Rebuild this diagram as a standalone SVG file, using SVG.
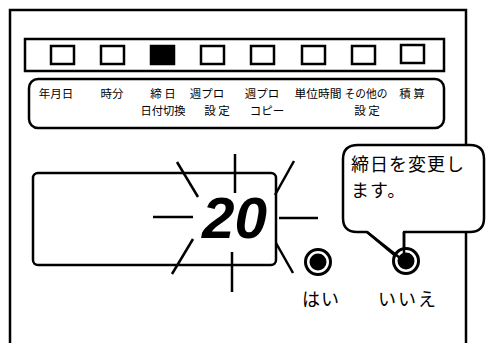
<svg xmlns="http://www.w3.org/2000/svg" width="486" height="343" viewBox="0 0 486 343">
<style>
.ln{fill:none;stroke:#000;stroke-width:2.5}
.led{fill:#fff;stroke:#000;stroke-width:2.5}
.ray{stroke:#000;stroke-width:2.5;fill:none}
.lbl{font-family:"Noto Sans CJK JP","Noto Sans CJK SC",sans-serif;font-size:11.5px;text-anchor:middle;fill:#000}
.big{font-family:"Noto Sans CJK JP","Noto Sans CJK SC",sans-serif;font-size:18px;fill:#000}
</style>
<rect width="486" height="343" fill="#fff"/>
<g id="frame"><rect class="ln" x="10" y="10" width="456" height="345"/></g>
<g id="led-bar">
<rect class="ln" x="25" y="39" width="419" height="32"/>
<rect class="led" x="51" y="46" width="23" height="18"/>
<rect class="led" x="101" y="46" width="23" height="18"/>
<rect x="151" y="46" width="23" height="18" fill="#000" stroke="#000" stroke-width="2.5"/>
<rect class="led" x="201" y="46" width="23" height="18"/>
<rect class="led" x="251" y="46" width="23" height="18"/>
<rect class="led" x="302" y="46" width="23" height="18"/>
<rect class="led" x="352" y="46" width="23" height="18"/>
<rect class="led" x="401" y="45" width="23" height="18"/>
</g>
<g id="labels">
<rect class="ln" x="29" y="79" width="415" height="49" rx="9"/>
<text class="lbl" x="56" y="98">年月日</text>
<text class="lbl" x="112" y="98">時分</text>
<text class="lbl" x="163" y="98">締 日</text>
<text class="lbl" x="163" y="115" textLength="45" lengthAdjust="spacingAndGlyphs">日付切換</text>
<text class="lbl" x="207" y="98">週プロ</text>
<text class="lbl" x="217" y="115">設 定</text>
<text class="lbl" x="262" y="98">週プロ</text>
<text class="lbl" x="267" y="115">コピー</text>
<text class="lbl" x="318" y="98" textLength="47" lengthAdjust="spacingAndGlyphs">単位時間</text>
<text class="lbl" x="366" y="98" textLength="43" lengthAdjust="spacingAndGlyphs">その他の</text>
<text class="lbl" x="367" y="115">設 定</text>
<text class="lbl" x="412" y="98">積 算</text>
</g>
<g id="display">
<rect class="ln" x="33" y="173" width="243" height="92" rx="5"/>
<text x="202" y="238" font-family="Liberation Sans, Arial, sans-serif" font-weight="bold" font-style="italic" font-size="58" textLength="65" lengthAdjust="spacingAndGlyphs">20</text>
</g>
<g id="rays">
<line class="ray" x1="235" y1="154" x2="235" y2="193"/>
<line class="ray" x1="232" y1="252" x2="232" y2="292"/>
<line class="ray" x1="153" y1="217" x2="193" y2="217"/>
<line class="ray" x1="279" y1="218" x2="318" y2="218"/>
<line class="ray" x1="177" y1="162" x2="198" y2="197"/>
<line class="ray" x1="294" y1="161" x2="275" y2="195"/>
<line class="ray" x1="193" y1="239" x2="172" y2="274"/>
<line class="ray" x1="276" y1="243" x2="293" y2="273"/>
</g>
<g id="callout">
<path d="M358,145 H470 Q484,145 484,159 V218 Q484,232 470,232 H404 V258 L398,258 L367,232 H357 Q343,232 343,218 V159 Q343,145 358,145 Z" fill="#fff" stroke="#000" stroke-width="2.5" stroke-linejoin="round"/>
<text class="big" x="351" y="171" font-size="20" letter-spacing="1">締日を変更し</text>
<text class="big" x="351" y="197" font-size="20" letter-spacing="1">ます。</text>
</g>
<g id="btn-yes">
<circle cx="318" cy="262" r="12.5" fill="#fff" stroke="#000" stroke-width="3"/>
<circle cx="318" cy="262" r="8.5" fill="#000"/>
<text class="big" x="302" y="306" letter-spacing="1">はい</text>
</g>
<g id="btn-no">
<circle cx="406" cy="261" r="12.5" fill="#fff" stroke="#000" stroke-width="3"/>
<circle cx="406" cy="261" r="8.5" fill="#000"/>
<line x1="404" y1="232" x2="404" y2="258" stroke="#000" stroke-width="2.5"/>
<line x1="367" y1="232" x2="400" y2="258" stroke="#000" stroke-width="2.5"/>
<text class="big" x="378" y="306" letter-spacing="2">いいえ</text>
</g>
</svg>
